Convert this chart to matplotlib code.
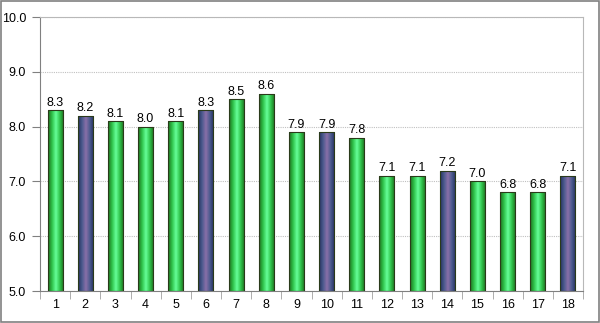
import numpy as np
import matplotlib.pyplot as plt
from matplotlib.colors import LinearSegmentedColormap
from matplotlib.patches import Rectangle

plt.rcParams['font.family'] = ['Liberation Sans', 'DejaVu Sans']

labels = [str(i) for i in range(1, 19)]
values = [8.3, 8.2, 8.1, 8.0, 8.1, 8.3, 8.5, 8.6, 7.9, 7.9, 7.8, 7.1, 7.1, 7.2, 7.0, 6.8, 6.8, 7.1]
highlight = [2, 6, 10, 14, 18]

green = LinearSegmentedColormap.from_list('g', ['#1f6e1f', '#2fc24a', '#66ff99', '#2fc24a', '#1f6e1f'])
purple = LinearSegmentedColormap.from_list('p', ['#26305e', '#4a5a8e', '#8a6fa8', '#4a5a8e', '#26305e'])

fig = plt.figure(figsize=(6, 3.23), dpi=100)
fig.add_artist(Rectangle((0.001, 0.002), 0.997, 0.995, transform=fig.transFigure,
                         fill=False, edgecolor='#808080', lw=1.2))
ax = fig.add_axes([0.0667, 0.099, 0.905, 0.848])

x = np.arange(len(values))

grad = np.linspace(0, 1, 64).reshape(1, -1)
bars = ax.bar(x, np.array(values) - 5.0, bottom=5.0, width=0.5, color='none',
              edgecolor='#2a3a1a', lw=0.8, zorder=3)
for i, b in enumerate(bars):
    cm = purple if (i + 1) in highlight else green
    im = ax.imshow(grad, cmap=cm, aspect='auto', zorder=2,
                   extent=[b.get_x(), b.get_x() + b.get_width(), 5.0, values[i]])
    im.set_clip_path(b)
    ax.text(x[i], values[i] + 0.03, f'{values[i]:.1f}', ha='center', va='bottom', fontsize=9)

ax.set_xlim(-0.5, len(values) - 0.5)
ax.set_ylim(5.0, 10.0)
ax.set_yticks(np.arange(5.0, 10.01, 1.0))
ax.set_yticklabels([f'{v:.1f}' for v in np.arange(5.0, 10.01, 1.0)], fontsize=9)
ax.yaxis.grid(True, color='#c0c0c0', ls=(0, (1, 1)), lw=0.8, zorder=0)
ax.set_axisbelow(True)

ax.set_xticks(x)
ax.set_xticklabels(labels, fontsize=9)
ax.tick_params(axis='x', length=0, pad=6)
ax.set_xticks(np.arange(-0.5, len(values)), minor=True)
ax.tick_params(axis='x', which='minor', length=6, color='#a0a0a0')
ax.tick_params(axis='y', length=6, color='#808080', pad=4)

for s in ['top', 'right']:
    ax.spines[s].set_color('#b8b8b8')
ax.spines['left'].set_color('#808080')
ax.spines['bottom'].set_color('#808080')

fig.savefig('out.png', dpi=100)
